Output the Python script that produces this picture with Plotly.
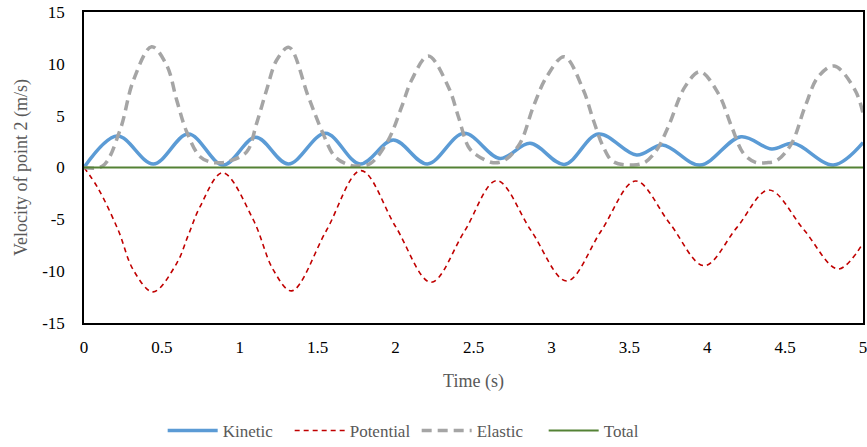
import plotly.graph_objects as go

# Time (s) and values
kin_t = [0, 0.214, 0.445, 0.67, 0.894, 1.102, 1.311, 1.55, 1.772, 1.985, 2.204, 2.439,
         2.67, 2.863, 3.083, 3.301, 3.547, 3.714, 3.954, 4.217, 4.414, 4.553, 4.81, 5.0]
kin_v = [0, 3.04, 0.34, 3.23, 0.24, 2.91, 0.34, 3.3, 0.34, 2.65, 0.34, 3.3,
         0.88, 2.33, 0.3, 3.23, 1.2, 2.17, 0.24, 2.97, 1.78, 2.33, 0.24, 2.4]

pot_t = [0, 0.09, 0.22, 0.317, 0.443, 0.595, 0.67, 0.745, 0.89, 1.087, 1.215, 1.333,
         1.555, 1.778, 2.0, 2.227, 2.44, 2.649, 2.87, 3.098, 3.32, 3.54, 3.76, 3.98,
         4.19, 4.396, 4.62, 4.84, 5.0]
pot_v = [0, -2.0, -6.06, -9.9, -12.0, -9.24, -6.5, -3.78, -0.5, -5.06, -9.88, -11.9,
         -6.1, -0.3, -5.7, -11.07, -6.2, -1.27, -6.1, -10.95, -6.1, -1.3, -5.4, -9.47,
         -5.8, -2.17, -6.0, -9.79, -7.3]

ela_t = [0, 0.12, 0.231, 0.317, 0.434, 0.53, 0.595, 0.659, 0.745, 0.82, 0.873, 0.93,
         1.044, 1.108, 1.172, 1.237, 1.316, 1.44, 1.525, 1.611, 1.70, 1.761, 1.84,
         1.953, 2.039, 2.103, 2.21, 2.338, 2.403, 2.467, 2.52, 2.627, 2.70,
         2.798, 2.884, 2.97, 3.083, 3.205, 3.269, 3.333, 3.397, 3.526, 3.60,
         3.676, 3.75, 3.858, 3.954, 4.071, 4.157, 4.232, 4.31, 4.382, 4.45,
         4.542, 4.628, 4.713, 4.816, 4.949, 5.0]
ela_v = [0, 0.15, 3.6, 8.4, 11.65, 9.9, 6.5, 3.45, 1.04, 0.5, 0.46, 0.6,
         1.5, 4.26, 7.47, 10.37, 11.59, 6.83, 3.6, 1.04, 0.25, 0.15, 0.4,
         2.65, 5.86, 8.44, 10.75, 7.8, 4.9, 2.0, 1.2, 0.46, 0.7,
         2.33, 5.86, 8.76, 10.69, 7.47, 4.58, 2.0, 0.56, 0.24, 0.5,
         1.69, 3.93, 7.8, 9.24, 7.15, 3.93, 1.37, 0.5, 0.46, 0.7,
         2.33, 5.86, 8.76, 9.79, 7.47, 5.22]

tot_t = [0, 5.0]
tot_v = [0, 0]

x_ticks = [0, 0.5, 1, 1.5, 2, 2.5, 3, 3.5, 4, 4.5, 5]
x_labels = ["0", "0.5", "1", "1.5", "2", "2.5", "3", "3.5", "4", "4.5", "5"]
y_ticks = [-15, -10, -5, 0, 5, 10, 15]
y_labels = ["-15", "-10", "-5", "0", "5", "10", "15"]

FONT = "Liberation Serif"
TICKFONT = dict(family=FONT, size=17, color="#000000")

fig = go.Figure()
fig.add_trace(go.Scatter(x=kin_t, y=kin_v, name="Kinetic", mode="lines",
                         line=dict(color="#5B9BD5", width=3.5, shape="spline", smoothing=1.0)))
fig.add_trace(go.Scatter(x=pot_t, y=pot_v, name="Potential", mode="lines",
                         line=dict(color="#C00000", width=1.6, dash="5px,4px", shape="spline", smoothing=1.0)))
fig.add_trace(go.Scatter(x=ela_t, y=ela_v, name="Elastic", mode="lines",
                         line=dict(color="#A5A5A5", width=3.5, dash="10px,6px", shape="spline", smoothing=1.0)))
fig.add_trace(go.Scatter(x=tot_t, y=tot_v, name="Total", mode="lines",
                         line=dict(color="#548235", width=2)))

fig.update_layout(
    width=867, height=447,
    margin=dict(l=84, r=4, t=12, b=124, autoexpand=False),
    paper_bgcolor="white", plot_bgcolor="white",
    font=dict(family=FONT, size=17, color="#000000"),
    showlegend=True,
    legend=dict(orientation="h", x=0.101, xanchor="left", y=-0.347, yanchor="middle",
                font=dict(family=FONT, size=17, color="#595959"),
                itemwidth=50, entrywidth=62, entrywidthmode="pixels",
                traceorder="normal"),
)
fig.update_xaxes(range=[0, 5], tickvals=x_ticks, ticktext=x_labels, tickfont=TICKFONT,
                 ticklabeloverflow="allow",
                 showgrid=False, zeroline=False, showline=True, linecolor="#000000",
                 linewidth=1.5, mirror=True, ticks="", ticklabelstandoff=8,
                 title=dict(text="Time (s)", font=dict(family=FONT, size=18, color="#595959"), standoff=18))
fig.update_yaxes(range=[-15, 15], tickvals=y_ticks, ticktext=y_labels, tickfont=TICKFONT,
                 ticklabeloverflow="allow",
                 showgrid=False, zeroline=False, showline=True, linecolor="#000000",
                 linewidth=1.5, mirror=True, ticks="", ticklabelstandoff=14,
                 title=dict(text="Velocity of point 2 (m/s)", font=dict(family=FONT, size=18, color="#595959"), standoff=10))

fig.write_html("out.html")
